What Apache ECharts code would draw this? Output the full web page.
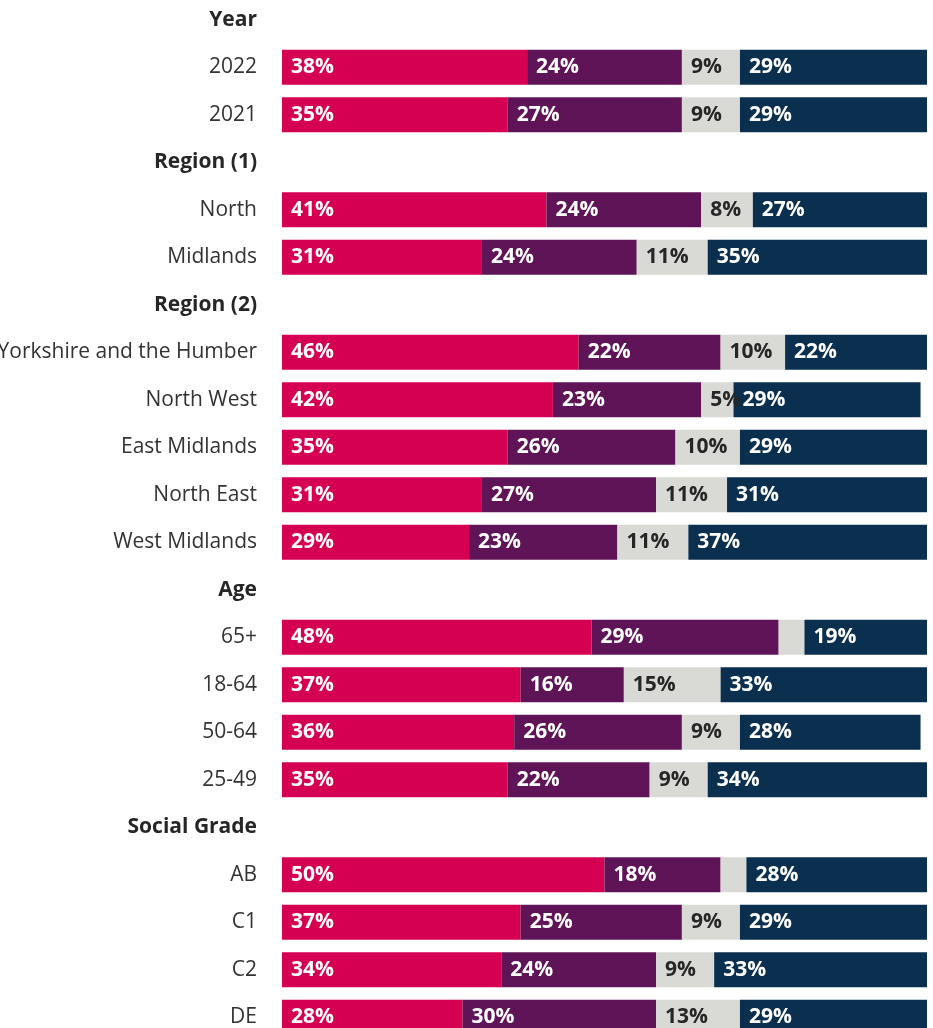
<!DOCTYPE html>
<html>
<head>
<meta charset="utf-8">
<title>Survey responses by group</title>
<script src="https://cdn.jsdelivr.net/npm/echarts@6/dist/echarts.min.js"></script>
<style>
  html, body { margin: 0; padding: 0; background: #ffffff; }
  #chart { width: 933px; height: 1028px; }
</style>
</head>
<body>
<div id="chart"></div>
<script>
// Rows top to bottom; group headings have no bars
const categories = [
  'Year', '2022', '2021',
  'Region (1)', 'North', 'Midlands',
  'Region (2)', 'Yorkshire and the Humber', 'North West', 'East Midlands', 'North East', 'West Midlands',
  'Age', '65+', '18-64', '50-64', '25-49',
  'Social Grade', 'AB', 'C1', 'C2', 'DE'
];
const headings = ['Year', 'Region (1)', 'Region (2)', 'Age', 'Social Grade'];

// Shares (%) for the four response bands, in category order
const band1 = [null, 38, 35, null, 41, 31, null, 46, 42, 35, 31, 29, null, 48, 37, 36, 35, null, 50, 37, 34, 28];
const band2 = [null, 24, 27, null, 24, 24, null, 22, 23, 26, 27, 23, null, 29, 16, 26, 22, null, 18, 25, 24, 30];
const band3 = [null, 9, 9, null, 8, 11, null, 10, 5, 10, 11, 11, null, 4, 15, 9, 9, null, 4, 9, 9, 13];
const band4 = [null, 29, 29, null, 27, 35, null, 22, 29, 29, 31, 37, null, 19, 33, 28, 34, null, 28, 29, 33, 29];

const colors = ['#D50052', '#5F1458', '#D9D9D6', '#0B2F4F'];
const labelColors = ['#ffffff', '#ffffff', '#262626', '#ffffff'];
const FONT = '"Open Sans", "Noto Sans", sans-serif';

function makeSeries(name, values, idx) {
  return {
    name: name,
    type: 'bar',
    stack: 'total',
    barWidth: 35,
    clip: true,
    itemStyle: { color: colors[idx] },
    label: {
      show: true,
      position: 'insideLeft',
      distance: 9,
      color: labelColors[idx],
      fontFamily: FONT,
      fontWeight: 'bold',
      fontSize: 21,
      // very thin segments carry no label
      formatter: p => (p.value == null || p.value < 5) ? '' : p.value + '%'
    },
    emphasis: { disabled: true },
    data: values
  };
}

const chart = echarts.init(document.getElementById('chart'), null, { renderer: 'canvas' });
chart.setOption({
  animation: false,
  grid: { left: 282, right: 6, top: -4, height: 1045, containLabel: false, outerBoundsMode: 'none' },
  xAxis: {
    type: 'value',
    min: 0,
    max: 100,
    show: false
  },
  yAxis: {
    type: 'category',
    inverse: true,
    data: categories,
    axisLine: { show: false },
    axisTick: { show: false },
    splitLine: { show: false },
    axisLabel: {
      margin: 25,
      fontFamily: FONT,
      fontSize: 21,
      color: '#333333',
      formatter: v => headings.includes(v) ? '{h|' + v + '}' : v,
      rich: {
        h: { fontFamily: FONT, fontSize: 21, fontWeight: 'bold', color: '#262626' }
      }
    }
  },
  series: [
    makeSeries('Band 1', band1, 0),
    makeSeries('Band 2', band2, 1),
    makeSeries('Band 3', band3, 2),
    makeSeries('Band 4', band4, 3)
  ]
});
</script>
</body>
</html>
